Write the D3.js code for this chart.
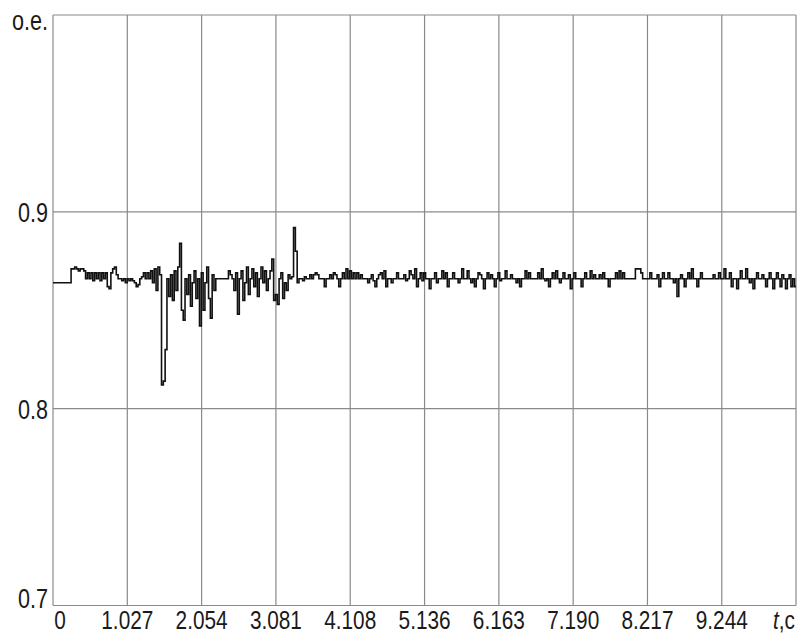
<!DOCTYPE html>
<html><head><meta charset="utf-8">
<script src="https://cdn.jsdelivr.net/npm/d3@7/dist/d3.min.js"></script>
<style>body{margin:0;background:#fff}svg{display:block}</style>
</head><body><svg id="c" width="800" height="635"></svg>
<script>
const dt = 0.025;
const xTicks = [0, 1.027, 2.054, 3.081, 4.108, 5.136, 6.163, 7.190, 8.217, 9.244];
const xTickLabels = ["0","1.027","2.054","3.081","4.108","5.136","6.163","7.190","8.217","9.244"];
const xMax = 10.27;
const yTicks = [0.7, 0.8, 0.9];
const yTickLabels = ["0.7","0.8","0.9"];
const yMin = 0.7, yMax = 1.0;
const values = [
0.864,0.864,0.864,0.864,0.864,0.864,0.864,0.864,0.864,0.864,0.871,0.871,0.872,0.871,0.870,0.871,0.871,0.870,0.866,0.869,
0.866,0.869,0.865,0.869,0.866,0.869,0.865,0.869,0.866,0.869,0.862,0.861,0.869,0.871,0.872,0.868,0.866,0.866,0.865,0.866,
0.864,0.866,0.865,0.866,0.865,0.864,0.862,0.863,0.866,0.867,0.869,0.866,0.869,0.866,0.870,0.864,0.871,0.860,0.872,0.868,
0.812,0.814,0.830,0.866,0.857,0.868,0.855,0.870,0.860,0.872,0.884,0.850,0.845,0.866,0.858,0.868,0.852,0.864,0.870,0.856,
0.866,0.842,0.869,0.850,0.864,0.872,0.856,0.846,0.868,0.860,0.866,0.866,0.866,0.866,0.866,0.866,0.866,0.870,0.868,0.866,
0.860,0.869,0.848,0.866,0.870,0.855,0.864,0.872,0.858,0.866,0.871,0.862,0.869,0.857,0.866,0.872,0.864,0.870,0.860,0.866,
0.870,0.876,0.855,0.858,0.853,0.866,0.869,0.856,0.864,0.860,0.868,0.866,0.867,0.892,0.880,0.864,0.866,0.866,0.865,0.867,
0.866,0.866,0.868,0.866,0.868,0.869,0.868,0.866,0.866,0.866,0.862,0.866,0.866,0.868,0.866,0.869,0.868,0.866,0.862,0.866,
0.869,0.866,0.871,0.866,0.870,0.866,0.869,0.866,0.869,0.866,0.868,0.866,0.866,0.866,0.864,0.866,0.868,0.865,0.862,0.866,
0.868,0.869,0.866,0.870,0.862,0.866,0.866,0.864,0.866,0.866,0.869,0.866,0.866,0.866,0.868,0.865,0.866,0.870,0.868,0.866,
0.871,0.862,0.866,0.869,0.865,0.869,0.866,0.866,0.861,0.866,0.866,0.869,0.864,0.866,0.866,0.870,0.866,0.869,0.862,0.866,
0.866,0.869,0.866,0.866,0.864,0.866,0.871,0.866,0.866,0.870,0.866,0.864,0.866,0.862,0.866,0.869,0.868,0.866,0.861,0.866,
0.869,0.866,0.868,0.866,0.862,0.866,0.869,0.865,0.866,0.866,0.870,0.866,0.866,0.868,0.866,0.866,0.864,0.866,0.862,0.866,
0.866,0.870,0.866,0.869,0.866,0.866,0.866,0.866,0.869,0.866,0.871,0.866,0.865,0.866,0.862,0.866,0.869,0.866,0.870,0.866,
0.864,0.866,0.869,0.866,0.866,0.868,0.861,0.866,0.869,0.866,0.866,0.866,0.862,0.866,0.869,0.866,0.866,0.870,0.866,0.868,
0.866,0.866,0.868,0.866,0.869,0.866,0.866,0.862,0.866,0.866,0.866,0.869,0.866,0.870,0.866,0.869,0.866,0.866,0.866,0.866,
0.866,0.866,0.871,0.871,0.871,0.869,0.866,0.866,0.866,0.866,0.869,0.866,0.866,0.866,0.868,0.862,0.866,0.869,0.866,0.866,
0.869,0.866,0.866,0.864,0.866,0.857,0.866,0.868,0.866,0.862,0.866,0.869,0.866,0.871,0.866,0.866,0.862,0.866,0.869,0.866,
0.866,0.866,0.866,0.866,0.866,0.868,0.866,0.866,0.869,0.866,0.866,0.871,0.866,0.866,0.869,0.862,0.866,0.866,0.861,0.866,
0.870,0.866,0.866,0.871,0.866,0.864,0.866,0.861,0.866,0.869,0.866,0.866,0.868,0.866,0.862,0.866,0.869,0.866,0.861,0.866,
0.869,0.866,0.862,0.868,0.866,0.861,0.866,0.868,0.862,0.866,0.862
];

const svg = d3.select("#c");
const L = 53, R = 796, T = 15, B = 605.5;
const x = d3.scaleLinear().domain([0, xMax]).range([L, R]);
const y = d3.scaleLinear().domain([yMin, yMax]).range([B, T]);
const grid = "#8a8a8a";

svg.append("g").selectAll("line").data(xTicks.concat([xMax])).join("line")
  .attr("x1", d => x(d)).attr("x2", d => x(d)).attr("y1", T).attr("y2", B)
  .attr("stroke", grid).attr("stroke-width", 1.2);
svg.append("g").selectAll("line").data(yTicks.concat([yMax])).join("line")
  .attr("x1", L).attr("x2", R).attr("y1", d => y(d)).attr("y2", d => y(d))
  .attr("stroke", grid).attr("stroke-width", 1.2);

const pts = values.map((v, i) => [i * dt, v]);
pts.push([xMax, values[values.length - 1]]);
const line = d3.line().x(d => x(d[0])).y(d => y(d[1])).curve(d3.curveStepAfter);
svg.append("path").datum(pts).attr("d", line)
  .attr("fill", "none").attr("stroke", "#111").attr("stroke-width", 1.6)
  .attr("stroke-linejoin", "miter");

const font = "Liberation Sans, Arial, sans-serif";
function label(tx, ty, txt, anchor, italicFirst, fs) {
  const g = svg.append("g").attr("transform", `translate(${tx},${ty}) scale(0.8,1)`);
  const t = g.append("text").attr("text-anchor", anchor)
    .attr("font-family", font).attr("font-size", fs || 27).attr("fill", "#1a1a1a");
  if (italicFirst) {
    t.append("tspan").attr("font-style", "italic").text(txt[0]);
    t.append("tspan").text(txt.slice(1));
  } else t.text(txt);
}
xTicks.forEach((d, i) => {
  const px = i === 0 ? x(d) + 7 : x(d);
  label(px, 629, xTickLabels[i], "middle", false, 26);
});
label(795, 629, "t,c", "end", true, 26);
yTicks.forEach((d, i) => {
  const py = i === 0 ? y(d) + 2 : y(d) + 10;
  label(48, py, yTickLabels[i], "end");
});
label(48, 30, "o.e.", "end");
</script></body></html>
